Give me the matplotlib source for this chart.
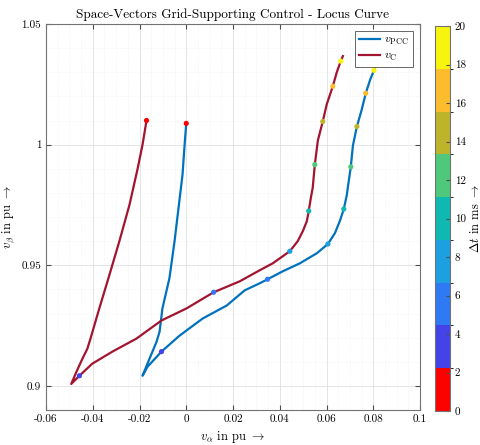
import matplotlib
matplotlib.use('Agg')
import matplotlib.pyplot as plt
import numpy as np
from matplotlib.colors import ListedColormap, BoundaryNorm
from matplotlib.cm import ScalarMappable
from matplotlib.ticker import MultipleLocator, FuncFormatter

plt.rcParams['font.family'] = 'cmr10'
plt.rcParams['mathtext.fontset'] = 'cm'
plt.rcParams['axes.unicode_minus'] = False

# locus of v_PCC (alpha / beta in pu)
pcc_x = [0.0, -0.0007, -0.0016, -0.0033, -0.0050, -0.0072, -0.0102, -0.0114, -0.0127,
         -0.0157, -0.0187, -0.0166, -0.0106, -0.0029, 0.0070, 0.0173, 0.0250, 0.0314,
         0.0348, 0.0413, 0.0486, 0.0559, 0.0606, 0.0636, 0.0657, 0.0674, 0.0687, 0.0691,
         0.0704, 0.0713, 0.0730, 0.0751, 0.0768, 0.0786, 0.0803, 0.0822]
pcc_y = [1.0088, 1.0000, 0.9875, 0.9738, 0.9600, 0.9446, 0.9321, 0.9225, 0.9183,
         0.9113, 0.9042, 0.9079, 0.9142, 0.9208, 0.9279, 0.9333, 0.9396, 0.9425,
         0.9442, 0.9475, 0.9508, 0.9550, 0.9588, 0.9633, 0.9683, 0.9733, 0.9792, 0.9821,
         0.9908, 0.9996, 1.0075, 1.0146, 1.0213, 1.0267, 1.0308, 1.0360]

# locus of v_C
c_x = [-0.0170, -0.0187, -0.0209, -0.0243, -0.0286, -0.0333, -0.0372, -0.0406, -0.0423,
       -0.0444, -0.0470, -0.0492, -0.0457, -0.0402, -0.0316, -0.0213, -0.0106, 0.0001,
       0.0117, 0.0228, 0.0314, 0.0370, 0.0443, 0.0477, 0.0499, 0.0516, 0.0524, 0.0533,
       0.0541, 0.0550, 0.0563, 0.0584, 0.0601, 0.0627, 0.0644, 0.0661, 0.0670]
c_y = [1.0100, 1.0000, 0.9896, 0.9750, 0.9600, 0.9446, 0.9321, 0.9208, 0.9154,
       0.9113, 0.9058, 0.9008, 0.9042, 0.9092, 0.9142, 0.9196, 0.9271, 0.9321,
       0.9388, 0.9433, 0.9479, 0.9508, 0.9558, 0.9600, 0.9642, 0.9683, 0.9725, 0.9779,
       0.9821, 0.9917, 1.0017, 1.0096, 1.0167, 1.0242, 1.0300, 1.0346, 1.0367]

# time stamps (ms) and marker positions
mark_t = [0, 2.5, 5, 7.5, 10, 12.5, 15, 17.5, 20]
pcc_mark_x = [0.0, -0.0106, 0.0348, 0.0606, 0.0674, 0.0704, 0.0730, 0.0768, 0.0803]
pcc_mark_y = [1.0088, 0.9142, 0.9442, 0.9588, 0.9733, 0.9908, 1.0075, 1.0213, 1.0308]
c_mark_x = [-0.0170, -0.0457, 0.0117, 0.0443, 0.0524, 0.0550, 0.0584, 0.0627, 0.0661]
c_mark_y = [1.0100, 0.9042, 0.9388, 0.9558, 0.9725, 0.9917, 1.0096, 1.0242, 1.0346]

cb_colors = ['#ff0000', '#4343e8', '#2f79f3', '#1d9fe0', '#0fb8b0',
             '#4fc87c', '#bdb42c', '#fbbd2e', '#f7f50e']
cmap = ListedColormap(cb_colors)
norm = BoundaryNorm(np.linspace(0, 20, 10), cmap.N)

fig = plt.figure(figsize=(4.81, 4.45), dpi=100)
ax = fig.add_axes([46/481, 1-410/445, 374/481, 386/445])

ax.plot(pcc_x, pcc_y, color='#0072BD', lw=1.6, label=r'$v_\mathrm{PCC}$', zorder=3)
ax.plot(c_x, c_y, color='#A2142F', lw=1.6, label=r'$v_\mathrm{C}$', zorder=3)
ax.scatter(pcc_mark_x, pcc_mark_y, c=mark_t, cmap=cmap, norm=norm, s=14, zorder=4, linewidths=0)
ax.scatter(c_mark_x, c_mark_y, c=mark_t, cmap=cmap, norm=norm, s=14, zorder=4, linewidths=0)

ax.set_xlim(-0.06, 0.1)
ax.set_ylim(0.89, 1.05)
ax.xaxis.set_major_locator(MultipleLocator(0.02))
ax.xaxis.set_minor_locator(MultipleLocator(0.005))
ax.yaxis.set_major_locator(MultipleLocator(0.05))
ax.yaxis.set_minor_locator(MultipleLocator(0.01))
fmt = FuncFormatter(lambda v, p: '%g' % round(v, 4))
ax.xaxis.set_major_formatter(fmt)
ax.yaxis.set_major_formatter(fmt)
ax.tick_params(which='both', direction='in', top=True, right=True, labelsize=8, color='0.3')
ax.tick_params(which='major', length=3.5)
ax.tick_params(which='minor', length=0)
ax.grid(which='major', color='0.88', lw=0.6)
ax.grid(which='minor', color='0.93', lw=0.5, ls=':')
ax.set_axisbelow(True)
for s in ax.spines.values():
    s.set_color('0.45')
    s.set_linewidth(0.8)

ax.set_title('Space-Vectors Grid-Supporting Control - Locus Curve', fontsize=9.5, pad=4)
ax.set_xlabel(r'$v_\alpha$ in pu $\rightarrow$', fontsize=9, labelpad=3)
ax.set_ylabel(r'$v_\beta$ in pu $\rightarrow$', fontsize=9, labelpad=3)

leg = ax.legend(loc='upper right', fontsize=8.5, handlelength=1.8, handletextpad=0.3,
                labelspacing=0.3, borderpad=0.35, fancybox=False,
                edgecolor='0.4', framealpha=1, borderaxespad=0.6)
leg.get_frame().set_linewidth(0.7)

cax = fig.add_axes([435/481, 1-411/445, 15/481, 385/445])
cb = fig.colorbar(ScalarMappable(norm=norm, cmap=cmap), cax=cax, ticks=range(0, 21, 2))
cb.ax.tick_params(direction='in', labelsize=8, length=3, color='0.3')
cb.outline.set_edgecolor('0.45')
cb.outline.set_linewidth(0.8)
cb.set_label(r'$\Delta t$ in ms $\rightarrow$', fontsize=9, labelpad=2)

fig.savefig('out.png', dpi=100)
